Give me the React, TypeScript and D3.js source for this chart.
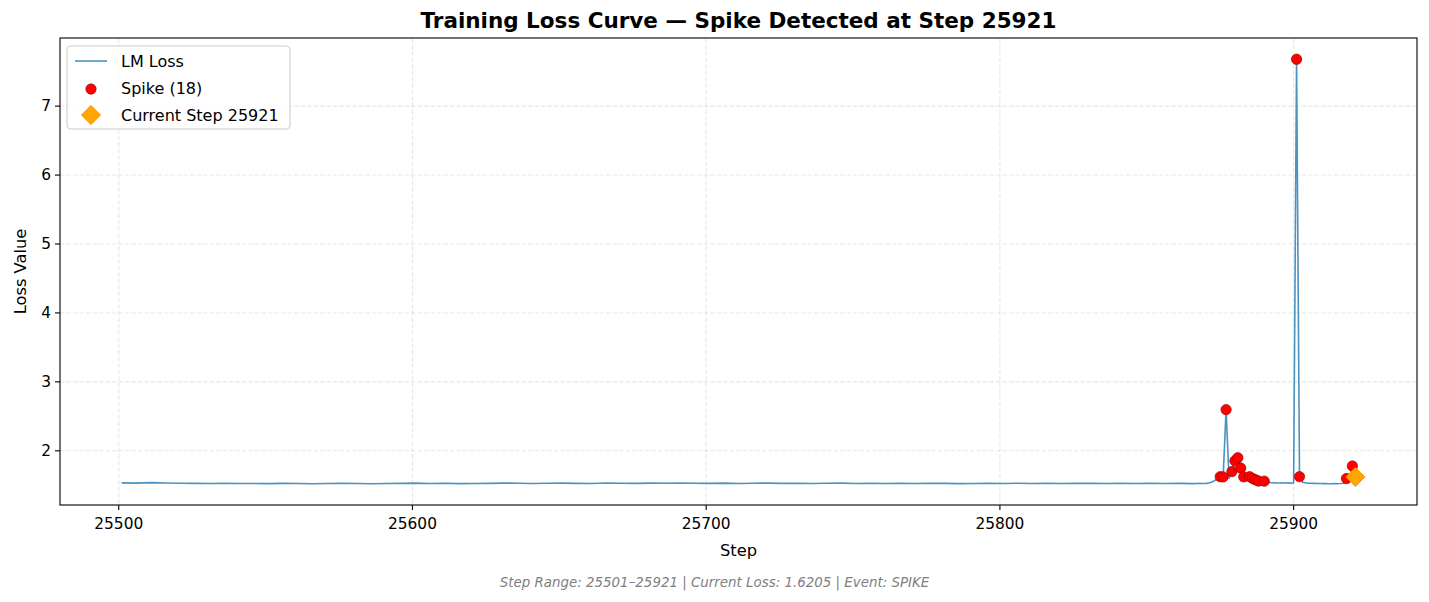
import * as d3 from 'd3';
import { useEffect } from 'react';

const W = 1429;
const H = 602;

// flat part of the run, one reading every 5 steps from 25501
const flatStart = 25501;
const flatStride = 5;
const flatLoss = [
    1.535, 1.532, 1.538, 1.534, 1.530, 1.528, 1.527, 1.529, 1.525, 1.527,
    1.524, 1.528, 1.526, 1.523, 1.527, 1.529, 1.525, 1.522, 1.526, 1.528,
    1.531, 1.527, 1.529, 1.524, 1.526, 1.528, 1.532, 1.530, 1.527, 1.529,
    1.531, 1.528, 1.526, 1.533, 1.530, 1.528, 1.531, 1.529, 1.533, 1.530,
    1.528, 1.531, 1.527, 1.529, 1.532, 1.528, 1.530, 1.526, 1.529, 1.531,
    1.527, 1.529, 1.525, 1.528, 1.526, 1.530, 1.528, 1.524, 1.527, 1.529,
    1.526, 1.530, 1.527, 1.529, 1.525, 1.528, 1.530, 1.526, 1.528, 1.527,
    1.529, 1.526, 1.528, 1.524,
];

// every step from 25867 to 25921
const tailStart = 25867;
const tailLoss = [
    1.527, 1.530, 1.526, 1.528, 1.532, 1.545, 1.565, 1.590, 1.625, 1.622,
    2.598, 1.600, 1.700, 1.855, 1.900, 1.750, 1.622, 1.585, 1.625, 1.600,
    1.580, 1.562, 1.550, 1.560, 1.545, 1.540, 1.537, 1.535, 1.534, 1.536,
    1.533, 1.535, 1.532, 1.534, 7.680, 1.625, 1.545, 1.538, 1.532, 1.530,
    1.528, 1.526, 1.525, 1.524, 1.526, 1.523, 1.522, 1.524, 1.523, 1.525,
    1.530, 1.598, 1.560, 1.780, 1.6205,
];

const spikeSteps = [
    25875, 25876, 25877, 25879, 25880, 25881, 25882, 25883, 25885,
    25886, 25887, 25888, 25890, 25901, 25902, 25918, 25920, 25921,
];

const currentStep = 25921;
const currentLoss = 1.6205;

const xTicks = [25500, 25600, 25700, 25800, 25900];
const yTicks = [2, 3, 4, 5, 6, 7];

const series: { step: number; loss: number }[] = [
    ...flatLoss.map((v, i) => ({ step: flatStart + i * flatStride, loss: v })),
    ...tailLoss.map((v, i) => ({ step: tailStart + i, loss: v })),
];
const lossAt = new Map(series.map(d => [d.step, d.loss]));

const margin = { top: 38, right: 12, bottom: 97, left: 60 };

export default function App() {
    useEffect(() => {
        document.body.style.margin = '0';
    }, []);

    const font = 'DejaVu Sans, sans-serif';
    const x0 = margin.left;
    const x1 = W - margin.right;
    const y0 = margin.top;
    const y1 = H - margin.bottom;

    // matplotlib style 5% padding
    const [sMin, sMax] = d3.extent(series, d => d.step) as [number, number];
    const [lMin, lMax] = d3.extent(series, d => d.loss) as [number, number];
    const sPad = (sMax - sMin) * 0.05;
    const lPad = (lMax - lMin) * 0.05;

    const x = d3.scaleLinear().domain([sMin - sPad, sMax + sPad]).range([x0, x1]);
    const y = d3.scaleLinear().domain([lMin - lPad, lMax + lPad]).range([y1, y0]);

    const line = d3.line<{ step: number; loss: number }>()
        .x(d => x(d.step))
        .y(d => y(d.loss));

    const diamond = (cx: number, cy: number, r: number) =>
        `M${cx},${cy - r}L${cx + r},${cy}L${cx},${cy + r}L${cx - r},${cy}Z`;

    return (
        <svg width={W} height={H} style={{ display: 'block', background: '#fff' }} fontFamily={font}>
            {/* grid */}
            <g stroke="#b0b0b0" strokeOpacity={0.3} strokeWidth={1.1} strokeDasharray="4.5,2">
                {xTicks.map(t => (
                    <line key={'gx' + t} x1={x(t)} x2={x(t)} y1={y0} y2={y1} />
                ))}
                {yTicks.map(t => (
                    <line key={'gy' + t} x1={x0} x2={x1} y1={y(t)} y2={y(t)} />
                ))}
            </g>

            {/* loss line */}
            <path d={line(series) || ''} fill="none" stroke="#1f77b4" strokeOpacity={0.8} strokeWidth={1.6} strokeLinejoin="round" />

            {/* spikes */}
            {spikeSteps.map(s => (
                <circle key={s} cx={x(s)} cy={y(lossAt.get(s) || 0)} r={5.2} fill="red" stroke="darkred" strokeWidth={0.6} />
            ))}

            {/* current step */}
            <path d={diamond(x(currentStep), y(currentLoss), 9.5)} fill="orange" stroke="darkorange" strokeWidth={1} />

            {/* axes frame */}
            <rect x={x0} y={y0} width={x1 - x0} height={y1 - y0} fill="none" stroke="#000" strokeWidth={1.1} />

            {/* x axis */}
            {xTicks.map(t => (
                <g key={'xt' + t} transform={`translate(${x(t)},${y1})`}>
                    <line y2={5} stroke="#000" strokeWidth={1.1} />
                    <text y={24} textAnchor="middle" fontSize={15.4}>{t}</text>
                </g>
            ))}
            <text x={(x0 + x1) / 2} y={556} textAnchor="middle" fontSize={16.3}>Step</text>

            {/* y axis */}
            {yTicks.map(t => (
                <g key={'yt' + t} transform={`translate(${x0},${y(t)})`}>
                    <line x2={-5} stroke="#000" strokeWidth={1.1} />
                    <text x={-9} dy="0.35em" textAnchor="end" fontSize={15.4}>{t}</text>
                </g>
            ))}
            <text transform={`translate(26,${(y0 + y1) / 2}) rotate(-90)`} textAnchor="middle" fontSize={16.3}>Loss Value</text>

            {/* title */}
            <text x={(x0 + x1) / 2} y={28} textAnchor="middle" fontSize={21.5} fontWeight="bold">
                Training Loss Curve — Spike Detected at Step 25921
            </text>

            {/* legend */}
            <g>
                <rect x={67} y={46} width={223} height={83} rx={4} fill="#fff" fillOpacity={0.8} stroke="#cccccc" strokeWidth={1.1} />
                <line x1={75} x2={107} y1={61} y2={61} stroke="#1f77b4" strokeOpacity={0.8} strokeWidth={1.6} />
                <text x={121} y={61} dy="0.35em" fontSize={16}>LM Loss</text>
                <circle cx={91} cy={89} r={5.2} fill="red" stroke="darkred" strokeWidth={0.6} />
                <text x={121} y={88} dy="0.35em" fontSize={16}>{`Spike (${spikeSteps.length})`}</text>
                <path d={diamond(91, 115, 9.5)} fill="orange" stroke="darkorange" strokeWidth={1} />
                <text x={121} y={115} dy="0.35em" fontSize={16}>{`Current Step ${currentStep}`}</text>
            </g>

            {/* footer */}
            <text x={W / 2} y={587} textAnchor="middle" fontSize={13.4} fontStyle="italic" fill="gray">
                {`Step Range: ${sMin}–${sMax} | Current Loss: ${currentLoss.toFixed(4)} | Event: SPIKE`}
            </text>
        </svg>
    );
}
